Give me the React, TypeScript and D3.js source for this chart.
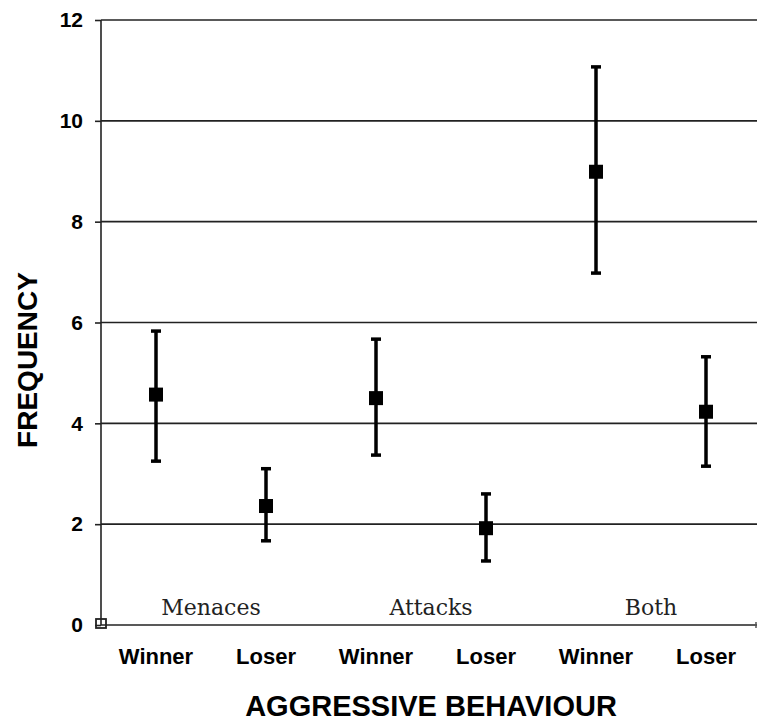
import React, { useRef, useEffect } from 'react'
import * as d3 from 'd3'

const groups = ['Menaces', 'Attacks', 'Both']
const roles = ['Winner', 'Loser']
const categories = ['Menaces Winner', 'Menaces Loser', 'Attacks Winner', 'Attacks Loser', 'Both Winner', 'Both Loser']
const means = [4.57, 2.36, 4.5, 1.92, 8.99, 4.23]
const upper = [5.83, 3.1, 5.67, 2.6, 11.07, 5.32]
const lower = [3.25, 1.67, 3.37, 1.27, 6.98, 3.15]
const yTicks = [0, 2, 4, 6, 8, 10, 12]

const W = 757, H = 721
const margin = { top: 20, right: 0, bottom: 96, left: 101 }

const App = () => {
  const svgRef = useRef(null)

  useEffect(() => {
    const svg = d3.select(svgRef.current)
    svg.selectAll('*').remove()

    const x = d3.scaleBand().domain(categories).range([margin.left, 761]).padding(0)
    const y = d3.scaleLinear().domain([0, 12]).range([625, margin.top])

    // y ticks + labels
    const yAxis = d3.axisLeft(y).tickValues(yTicks).tickSize(6).tickFormat(d => String(d))
    const ga = svg.append('g').attr('transform', `translate(${margin.left},0)`).call(yAxis)
    ga.select('.domain').remove()
    ga.selectAll('.tick line').attr('stroke', '#222').attr('stroke-width', 1.6)
    ga.selectAll('.tick text')
      .attr('x', -18)
      .attr('font-family', 'Arial, "Liberation Sans", sans-serif')
      .attr('font-weight', 'bold')
      .attr('font-size', 21)
      .attr('fill', '#000')

    // horizontal gridlines
    svg.append('g')
      .selectAll('line')
      .data(yTicks)
      .join('line')
      .attr('x1', margin.left)
      .attr('x2', 757)
      .attr('y1', d => y(d))
      .attr('y2', d => y(d))
      .attr('stroke', '#222')
      .attr('stroke-width', 1.6)

    // y axis line
    svg.append('line')
      .attr('x1', margin.left).attr('x2', margin.left)
      .attr('y1', y(12)).attr('y2', y(0))
      .attr('stroke', '#222').attr('stroke-width', 1.6)

    // small marker at origin
    svg.append('rect')
      .attr('x', 96).attr('y', y(0) - 6).attr('width', 10).attr('height', 9)
      .attr('fill', 'none').attr('stroke', '#222').attr('stroke-width', 1.8)
    svg.append('line')
      .attr('x1', 756).attr('x2', 756).attr('y1', y(0) - 3).attr('y2', y(0) + 3)
      .attr('stroke', '#555').attr('stroke-width', 1.5)

    // group labels
    svg.append('g')
      .selectAll('text')
      .data(groups)
      .join('text')
      .attr('x', (d, i) => (x(categories[i * 2]) + x(categories[i * 2 + 1]) + x.bandwidth()) / 2)
      .attr('y', 615)
      .attr('text-anchor', 'middle')
      .attr('font-family', '"DejaVu Serif", serif')
      .attr('font-size', 22)
      .attr('fill', '#222')
      .text(d => d)

    // role labels
    svg.append('g')
      .selectAll('text')
      .data(categories)
      .join('text')
      .attr('x', d => x(d) + x.bandwidth() / 2)
      .attr('y', 664)
      .attr('text-anchor', 'middle')
      .attr('font-family', 'Arial, "Liberation Sans", sans-serif')
      .attr('font-weight', 'bold')
      .attr('font-size', 22)
      .attr('fill', '#000')
      .text((d, i) => roles[i % 2])

    // error bars
    const bars = svg.append('g')
    categories.forEach((c, i) => {
      const cx = x(c) + x.bandwidth() / 2
      bars.append('line')
        .attr('x1', cx).attr('x2', cx)
        .attr('y1', y(upper[i])).attr('y2', y(lower[i]))
        .attr('stroke', '#000').attr('stroke-width', 3.5)
      ;[upper[i], lower[i]].forEach(v => {
        bars.append('line')
          .attr('x1', cx - 5).attr('x2', cx + 5)
          .attr('y1', y(v)).attr('y2', y(v))
          .attr('stroke', '#000').attr('stroke-width', 3.5)
      })
      bars.append('rect')
        .attr('x', cx - 7).attr('y', y(means[i]) - 7)
        .attr('width', 14).attr('height', 14)
        .attr('fill', '#000')
    })

    // axis titles
    svg.append('text')
      .attr('x', 431).attr('y', 716)
      .attr('text-anchor', 'middle')
      .attr('font-family', 'Arial, "Liberation Sans", sans-serif')
      .attr('font-weight', 'bold')
      .attr('font-size', 29)
      .attr('fill', '#000')
      .text('AGGRESSIVE BEHAVIOUR')

    svg.append('text')
      .attr('transform', 'translate(37,360) rotate(-90)')
      .attr('text-anchor', 'middle')
      .attr('font-family', 'Arial, "Liberation Sans", sans-serif')
      .attr('font-weight', 'bold')
      .attr('font-size', 28)
      .attr('fill', '#000')
      .text('FREQUENCY')
  }, [])

  return (
    <svg ref={svgRef} width={W} height={H}
      style={{ position: 'absolute', left: 0, top: 0, background: '#fff' }} />
  )
}

export default App
